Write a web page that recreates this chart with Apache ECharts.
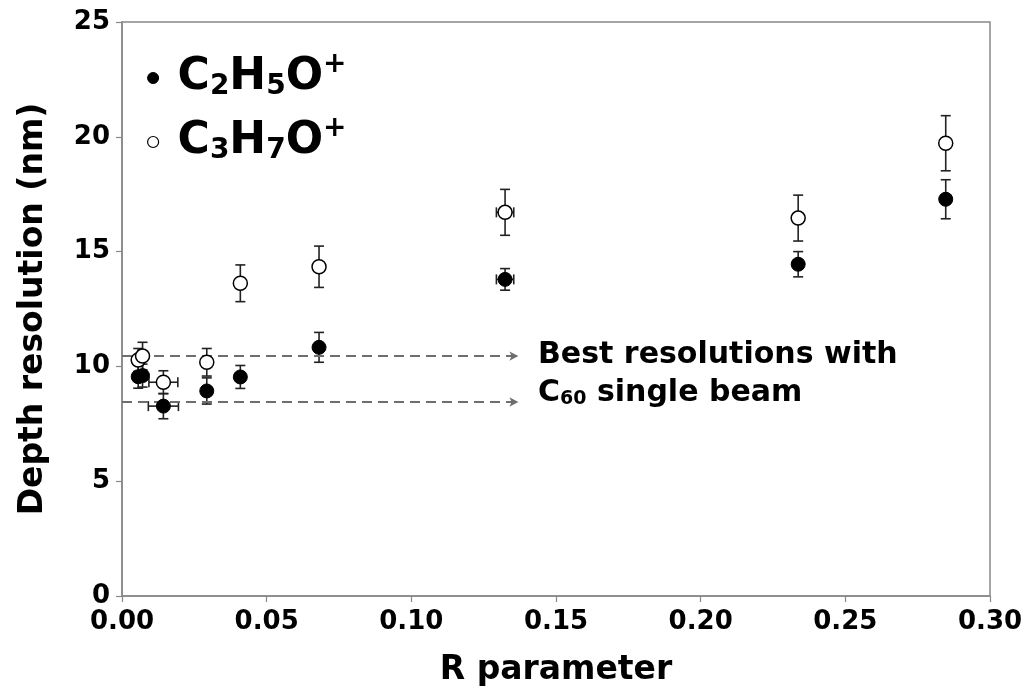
<!DOCTYPE html>
<html>
<head>
<meta charset="utf-8">
<script src="https://cdn.jsdelivr.net/npm/echarts@6/dist/echarts.min.js"></script>
<style>html,body{margin:0;padding:0;background:#fff}#c{width:1028px;height:693px}</style>
</head>
<body>
<div id="c"></div>
<script>
// ---- data ----
const rFilled = [0.0056, 0.0071, 0.0143, 0.0293, 0.0409, 0.0681, 0.1324, 0.2337, 0.2847];
const yFilled = [9.55, 9.6, 8.27, 8.93, 9.54, 10.83, 13.79, 14.45, 17.28];
const eyFilled = [0.5, 0.5, 0.55, 0.57, 0.5, 0.65, 0.47, 0.55, 0.85];
const exFilled = [0, 0, 0.0052, 0, 0, 0, 0.003, 0, 0];

const rOpen = [0.0056, 0.0071, 0.0143, 0.0293, 0.0409, 0.0681, 0.1324, 0.2337, 0.2847];
const yOpen = [10.28, 10.45, 9.31, 10.18, 13.62, 14.34, 16.71, 16.46, 19.72];
const eyOpen = [0.5, 0.6, 0.5, 0.6, 0.8, 0.9, 1.0, 1.0, 1.2];
const exOpen = [0, 0, 0.005, 0, 0, 0, 0.003, 0, 0];

const seriesNames = ['C2H5O+', 'C3H7O+'];
const bestLines = [10.45, 8.45];
const arrowEndR = 0.137;
const xTicks = [0, 0.05, 0.10, 0.15, 0.20, 0.25, 0.30];
const yTicks = [0, 5, 10, 15, 20, 25];

const FONT = '"DejaVu Sans", Verdana, sans-serif';
const chart = echarts.init(document.getElementById('c'));

function errRows(r, y, ex, ey) { return r.map((v, i) => [v, y[i], ex[i], ey[i]]); }

function renderErr(params, api) {
  const x = api.value(0), y = api.value(1), ex = api.value(2), ey = api.value(3);
  const st = { stroke: '#222', lineWidth: 1.6 };
  const cap = 5;
  const ch = [];
  const t = api.coord([x, y + ey]), b = api.coord([x, y - ey]);
  ch.push({ type: 'line', shape: { x1: t[0], y1: t[1], x2: b[0], y2: b[1] }, style: st });
  ch.push({ type: 'line', shape: { x1: t[0] - cap, y1: t[1], x2: t[0] + cap, y2: t[1] }, style: st });
  ch.push({ type: 'line', shape: { x1: b[0] - cap, y1: b[1], x2: b[0] + cap, y2: b[1] }, style: st });
  if (ex > 0) {
    const l = api.coord([x - ex, y]), r = api.coord([x + ex, y]);
    ch.push({ type: 'line', shape: { x1: l[0], y1: l[1], x2: r[0], y2: r[1] }, style: st });
    ch.push({ type: 'line', shape: { x1: l[0], y1: l[1] - cap, x2: l[0], y2: l[1] + cap }, style: st });
    ch.push({ type: 'line', shape: { x1: r[0], y1: r[1] - cap, x2: r[0], y2: r[1] + cap }, style: st });
  }
  return { type: 'group', children: ch };
}

const legendRich = {
  a: { fontFamily: FONT, fontWeight: 'bold', fontSize: 44, color: '#000', lineHeight: 54, verticalAlign: 'middle' },
  s: { fontFamily: FONT, fontWeight: 'bold', fontSize: 28, color: '#000', lineHeight: 54, verticalAlign: 'bottom', padding: [0, 0, 4, 0] },
  p: { fontFamily: FONT, fontWeight: 'bold', fontSize: 28, color: '#000', lineHeight: 54, verticalAlign: 'top', padding: [0, 0, 0, 0] }
};
function chemRich(name) {
  let out = '';
  for (const ch of name) {
    if (/[0-9]/.test(ch)) out += '{s|' + ch + '}';
    else if (ch === '+') out += '{p|+}';
    else out += '{a|' + ch + '}';
  }
  return out;
}

const option = {
  backgroundColor: '#fff',
  animation: false,
  grid: { left: 122, right: 38, top: 22, bottom: 97, show: true, borderColor: '#888', borderWidth: 1.5, backgroundColor: 'transparent' },
  legend: {
    orient: 'vertical', left: 142, top: 46, itemGap: 10,
    itemWidth: 11, itemHeight: 11,
    data: [
      { name: seriesNames[0], icon: 'circle', itemStyle: { color: '#000', borderColor: '#000', borderWidth: 1 } },
      { name: seriesNames[1], icon: 'circle', itemStyle: { color: '#fff', borderColor: '#000', borderWidth: 1.2 } }
    ],
    formatter: n => chemRich(n),
    textStyle: { rich: legendRich, padding: [0, 0, 0, 14] },
    selectedMode: false
  },
  xAxis: {
    type: 'value', min: 0, max: 0.30, interval: 0.05,
    name: 'R parameter', nameLocation: 'middle', nameGap: 58,
    nameTextStyle: { fontFamily: FONT, fontWeight: 'bold', fontSize: 33, color: '#000' },
    axisLine: { show: true, lineStyle: { color: '#888', width: 1.5 } },
    axisTick: { show: true, length: 6, lineStyle: { color: '#888', width: 1.2 } },
    axisLabel: { fontFamily: FONT, fontWeight: 'bold', fontSize: 26, color: '#000', margin: 13, formatter: v => v.toFixed(2) },
    splitLine: { show: false }
  },
  yAxis: {
    type: 'value', min: 0, max: 25, interval: 5,
    name: 'Depth resolution (nm)', nameLocation: 'middle', nameGap: 72,
    nameTextStyle: { fontFamily: FONT, fontWeight: 'bold', fontSize: 33, color: '#000' },
    axisLine: { show: true, lineStyle: { color: '#888', width: 1.5 } },
    axisTick: { show: true, length: 6, lineStyle: { color: '#888', width: 1.2 } },
    axisLabel: { fontFamily: FONT, fontWeight: 'bold', fontSize: 26, color: '#000', margin: 12 },
    splitLine: { show: false }
  },
  graphic: [
    { type: 'text', left: 538, top: 340, style: { text: 'Best resolutions with', fontFamily: FONT, fontWeight: 'bold', fontSize: 30, fill: '#000' } },
    { type: 'text', left: 538, top: 378, style: {
        text: '{a|C}{s|60}{a| single beam}',
        rich: {
          a: { fontFamily: FONT, fontWeight: 'bold', fontSize: 30, fill: '#000', lineHeight: 40, verticalAlign: 'middle' },
          s: { fontFamily: FONT, fontWeight: 'bold', fontSize: 19, fill: '#000', lineHeight: 40, verticalAlign: 'bottom', padding: [0, 0, 4, 0] }
        } } }
  ],
  series: [
    { type: 'custom', name: 'errFilled', renderItem: renderErr, data: errRows(rFilled, yFilled, exFilled, eyFilled), z: 2, silent: true,
      encode: { x: 0, y: 1 } },
    { type: 'custom', name: 'errOpen', renderItem: renderErr, data: errRows(rOpen, yOpen, exOpen, eyOpen), z: 2, silent: true,
      encode: { x: 0, y: 1 } },
    { type: 'scatter', name: seriesNames[0], symbol: 'circle', symbolSize: 14, z: 5,
      itemStyle: { color: '#000', borderColor: '#000', borderWidth: 1, opacity: 1 },
      data: rFilled.map((v, i) => [v, yFilled[i]]),
      markLine: {
        silent: true, symbol: ['none', 'arrow'], symbolSize: [7, 9], animation: false,
        lineStyle: { color: '#6e6e6e', type: [10, 6], width: 2 },
        label: { show: false },
        data: bestLines.map(v => [{ coord: [0, v] }, { coord: [arrowEndR, v] }])
      }
    },
    { type: 'scatter', name: seriesNames[1], symbol: 'circle', symbolSize: 14, z: 6,
      itemStyle: { color: '#fff', borderColor: '#000', borderWidth: 1.5, opacity: 1 },
      data: rOpen.map((v, i) => [v, yOpen[i]])
    }
  ]
};
chart.setOption(option);
</script>
</body>
</html>
